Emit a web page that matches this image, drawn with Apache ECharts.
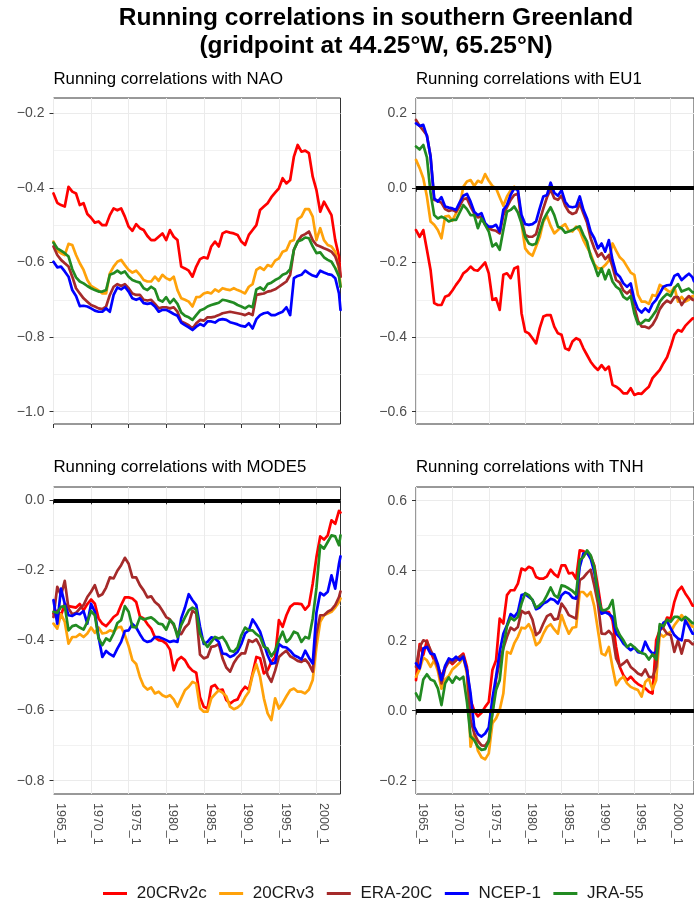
<!DOCTYPE html>
<html>
<head>
<meta charset="utf-8">
<script src="https://cdn.jsdelivr.net/npm/echarts@6/dist/echarts.min.js"></script>
<style>
  html, body { margin: 0; padding: 0; background: #ffffff; }
  #chart { width: 694px; height: 906px; }
</style>
</head>
<body>
<div id="chart"></div>
<script>
// Sample times: half-yearly steps from 1965_1, plus the final month shown.
const sampleYears = [];
for (let k = 0; k <= 76; k++) sampleYears.push(1965 + k / 2);
sampleYears.push(2003.2);

const modelNames = ['20CRv2c', '20CRv3', 'ERA-20C', 'NCEP-1', 'JRA-55'];
const yearTicks = [1965, 1970, 1975, 1980, 1985, 1990, 1995, 2000];

const naoTicks = [-1.0, -0.8, -0.6, -0.4, -0.2];
const eu1Ticks = [-0.6, -0.4, -0.2, 0.0, 0.2];
const mode5Ticks = [-0.8, -0.6, -0.4, -0.2, 0.0];
const tnhTicks = [-0.2, 0.0, 0.2, 0.4, 0.6];

// ---- NAO ----
const naoV2c = [-0.415,-0.44,-0.446,-0.45,-0.397,-0.41,-0.415,-0.446,-0.441,-0.47,
-0.48,-0.493,-0.49,-0.5,-0.5,-0.473,-0.455,-0.46,-0.455,-0.477,
-0.504,-0.515,-0.497,-0.508,-0.513,-0.529,-0.54,-0.54,-0.531,-0.522,
-0.54,-0.513,-0.531,-0.54,-0.611,-0.616,-0.622,-0.638,-0.611,-0.591,
-0.586,-0.589,-0.557,-0.544,-0.557,-0.522,-0.517,-0.52,-0.522,-0.526,
-0.544,-0.553,-0.526,-0.513,-0.5,-0.459,-0.45,-0.441,-0.425,-0.413,
-0.401,-0.374,-0.388,-0.379,-0.316,-0.285,-0.303,-0.3,-0.307,-0.37,
-0.406,-0.464,-0.437,-0.455,-0.473,-0.54,-0.584,-0.638];
const naoV3 = [-0.544,-0.568,-0.575,-0.58,-0.55,-0.553,-0.58,-0.602,-0.62,-0.647,
-0.663,-0.669,-0.675,-0.683,-0.683,-0.629,-0.611,-0.598,-0.593,-0.607,
-0.62,-0.627,-0.622,-0.633,-0.647,-0.651,-0.651,-0.638,-0.649,-0.633,
-0.642,-0.647,-0.638,-0.674,-0.696,-0.7,-0.705,-0.718,-0.693,-0.692,
-0.683,-0.68,-0.683,-0.672,-0.678,-0.669,-0.672,-0.674,-0.669,-0.674,
-0.678,-0.683,-0.665,-0.658,-0.62,-0.613,-0.62,-0.607,-0.611,-0.595,
-0.589,-0.571,-0.567,-0.544,-0.54,-0.484,-0.477,-0.457,-0.457,-0.477,
-0.54,-0.508,-0.54,-0.553,-0.557,-0.571,-0.62,-0.665];
const naoEra = [-0.557,-0.58,-0.593,-0.602,-0.611,-0.638,-0.669,-0.683,-0.696,-0.705,
-0.714,-0.718,-0.723,-0.725,-0.718,-0.687,-0.665,-0.658,-0.663,-0.658,
-0.669,-0.683,-0.687,-0.687,-0.7,-0.702,-0.7,-0.711,-0.723,-0.72,
-0.72,-0.723,-0.72,-0.732,-0.758,-0.763,-0.768,-0.777,-0.763,-0.754,
-0.756,-0.747,-0.747,-0.745,-0.741,-0.736,-0.734,-0.732,-0.734,-0.736,
-0.738,-0.741,-0.736,-0.741,-0.687,-0.685,-0.683,-0.678,-0.676,-0.672,
-0.665,-0.658,-0.651,-0.633,-0.566,-0.544,-0.529,-0.524,-0.517,-0.54,
-0.553,-0.557,-0.562,-0.566,-0.571,-0.584,-0.611,-0.638];
const naoNcep = [-0.598,-0.613,-0.611,-0.624,-0.638,-0.674,-0.69,-0.717,-0.716,-0.718,
-0.723,-0.729,-0.732,-0.732,-0.723,-0.732,-0.687,-0.667,-0.672,-0.665,
-0.678,-0.696,-0.7,-0.696,-0.709,-0.711,-0.709,-0.718,-0.732,-0.727,
-0.727,-0.732,-0.738,-0.743,-0.761,-0.768,-0.774,-0.781,-0.772,-0.765,
-0.77,-0.758,-0.758,-0.761,-0.754,-0.752,-0.754,-0.76,-0.763,-0.766,
-0.77,-0.772,-0.763,-0.777,-0.752,-0.741,-0.736,-0.734,-0.741,-0.741,
-0.736,-0.732,-0.72,-0.741,-0.642,-0.636,-0.633,-0.622,-0.629,-0.635,
-0.638,-0.622,-0.627,-0.631,-0.633,-0.642,-0.683,-0.727];
const naoJra = [-0.547,-0.562,-0.568,-0.575,-0.584,-0.618,-0.64,-0.651,-0.656,-0.663,
-0.669,-0.674,-0.678,-0.678,-0.674,-0.633,-0.629,-0.622,-0.629,-0.624,
-0.638,-0.647,-0.651,-0.654,-0.669,-0.674,-0.665,-0.672,-0.7,-0.705,
-0.693,-0.709,-0.698,-0.711,-0.734,-0.743,-0.747,-0.754,-0.741,-0.729,
-0.725,-0.718,-0.714,-0.711,-0.708,-0.7,-0.702,-0.705,-0.708,-0.714,
-0.718,-0.723,-0.716,-0.72,-0.672,-0.667,-0.674,-0.658,-0.654,-0.647,
-0.642,-0.633,-0.629,-0.618,-0.566,-0.544,-0.54,-0.533,-0.535,-0.557,
-0.575,-0.573,-0.586,-0.593,-0.598,-0.615,-0.638,-0.665];

// ---- EU1 ----
const eu1V2c = [-0.113,-0.131,-0.113,-0.166,-0.22,-0.309,-0.314,-0.314,-0.292,-0.288,
-0.275,-0.26,-0.247,-0.229,-0.222,-0.211,-0.22,-0.222,-0.211,-0.2,
-0.229,-0.3,-0.296,-0.327,-0.233,-0.229,-0.242,-0.216,-0.211,-0.336,
-0.385,-0.39,-0.403,-0.417,-0.376,-0.345,-0.341,-0.341,-0.372,-0.39,
-0.394,-0.43,-0.435,-0.412,-0.403,-0.408,-0.43,-0.448,-0.466,-0.479,
-0.488,-0.475,-0.488,-0.479,-0.528,-0.533,-0.54,-0.551,-0.551,-0.537,
-0.555,-0.551,-0.552,-0.542,-0.533,-0.51,-0.499,-0.488,-0.47,-0.454,
-0.426,-0.394,-0.381,-0.385,-0.37,-0.36,-0.35,-0.35];
const eu1V3 = [0.075,0.053,0.026,-0.023,-0.09,-0.099,-0.113,-0.135,-0.077,-0.075,
-0.088,-0.068,-0.048,0.003,0.017,0.021,0.005,0.019,0.014,0.037,
0.019,0.005,-0.001,-0.025,-0.048,-0.023,-0.007,0.003,-0.006,-0.095,
-0.162,-0.175,-0.182,-0.157,-0.132,-0.09,-0.075,-0.102,-0.122,-0.113,
-0.104,-0.097,-0.115,-0.117,-0.104,-0.115,-0.14,-0.159,-0.177,-0.204,
-0.216,-0.216,-0.207,-0.195,-0.149,-0.168,-0.186,-0.195,-0.211,-0.227,
-0.233,-0.287,-0.305,-0.305,-0.311,-0.287,-0.29,-0.26,-0.266,-0.274,
-0.281,-0.266,-0.305,-0.292,-0.305,-0.3,-0.29,-0.29];
const eu1Era = [0.182,0.166,0.154,0.141,0.084,-0.032,-0.034,-0.04,-0.057,-0.062,
-0.059,-0.064,-0.048,-0.03,-0.028,-0.05,-0.068,-0.079,-0.077,-0.099,
-0.108,-0.113,-0.115,-0.122,-0.073,-0.052,-0.032,-0.019,-0.016,-0.086,
-0.126,-0.131,-0.131,-0.124,-0.088,-0.055,-0.025,-0.004,-0.028,-0.032,
-0.021,-0.048,-0.064,-0.07,-0.066,-0.041,-0.068,-0.093,-0.135,-0.162,
-0.184,-0.175,-0.191,-0.18,-0.211,-0.247,-0.254,-0.275,-0.283,-0.274,
-0.318,-0.356,-0.372,-0.372,-0.376,-0.367,-0.35,-0.325,-0.311,-0.302,
-0.308,-0.293,-0.293,-0.314,-0.3,-0.29,-0.3,-0.3];
const eu1Ncep = [0.173,0.166,0.169,0.139,0.084,-0.028,-0.037,-0.025,-0.05,-0.053,
-0.055,-0.059,-0.039,-0.021,-0.016,-0.037,-0.064,-0.073,-0.068,-0.095,
-0.104,-0.104,-0.099,-0.117,-0.059,-0.046,-0.019,-0.001,-0.006,-0.073,
-0.097,-0.099,-0.097,-0.09,-0.055,-0.023,-0.019,0.014,-0.013,-0.021,
-0.006,-0.037,-0.05,-0.052,-0.05,-0.023,-0.059,-0.082,-0.117,-0.135,
-0.162,-0.149,-0.171,-0.14,-0.193,-0.229,-0.238,-0.256,-0.265,-0.256,
-0.3,-0.325,-0.334,-0.323,-0.332,-0.311,-0.3,-0.283,-0.265,-0.261,
-0.26,-0.236,-0.231,-0.247,-0.238,-0.23,-0.24,-0.25];
const eu1Jra = [0.111,0.103,0.115,0.082,-0.014,-0.073,-0.082,-0.077,-0.082,-0.09,
-0.086,-0.086,-0.066,-0.046,-0.057,-0.073,-0.073,-0.108,-0.082,-0.099,
-0.117,-0.157,-0.149,-0.166,-0.113,-0.064,-0.059,-0.05,-0.066,-0.095,
-0.131,-0.149,-0.153,-0.149,-0.117,-0.086,-0.068,-0.052,-0.073,-0.104,
-0.108,-0.12,-0.117,-0.113,-0.107,-0.103,-0.126,-0.144,-0.184,-0.207,
-0.236,-0.216,-0.245,-0.22,-0.251,-0.265,-0.272,-0.292,-0.299,-0.29,
-0.336,-0.365,-0.363,-0.354,-0.356,-0.343,-0.329,-0.305,-0.293,-0.284,
-0.29,-0.269,-0.258,-0.278,-0.274,-0.27,-0.28,-0.28];

// ---- MODE5 ----
const mode5V2c = [-0.323,-0.315,-0.328,-0.296,-0.302,-0.304,-0.306,-0.296,-0.314,-0.296,
-0.283,-0.295,-0.337,-0.352,-0.359,-0.347,-0.333,-0.325,-0.299,-0.277,
-0.277,-0.28,-0.29,-0.331,-0.337,-0.353,-0.366,-0.391,-0.399,-0.401,
-0.409,-0.426,-0.485,-0.456,-0.447,-0.456,-0.475,-0.486,-0.492,-0.562,
-0.589,-0.594,-0.532,-0.527,-0.542,-0.54,-0.57,-0.58,-0.572,-0.568,
-0.546,-0.532,-0.54,-0.494,-0.447,-0.451,-0.494,-0.485,-0.461,-0.447,
-0.342,-0.361,-0.328,-0.304,-0.295,-0.295,-0.296,-0.312,-0.3,-0.238,
-0.162,-0.103,-0.112,-0.1,-0.057,-0.067,-0.03,-0.035];
const mode5V3 = [-0.352,-0.366,-0.325,-0.347,-0.409,-0.39,-0.39,-0.382,-0.39,-0.38,
-0.363,-0.378,-0.363,-0.38,-0.378,-0.371,-0.375,-0.363,-0.361,-0.385,
-0.416,-0.456,-0.467,-0.504,-0.53,-0.54,-0.534,-0.551,-0.546,-0.556,
-0.561,-0.556,-0.568,-0.589,-0.565,-0.542,-0.532,-0.518,-0.523,-0.593,
-0.603,-0.603,-0.565,-0.553,-0.542,-0.549,-0.559,-0.589,-0.596,-0.591,
-0.582,-0.562,-0.546,-0.499,-0.468,-0.504,-0.565,-0.608,-0.627,-0.565,
-0.594,-0.578,-0.559,-0.542,-0.537,-0.546,-0.546,-0.551,-0.54,-0.513,
-0.418,-0.347,-0.328,-0.323,-0.318,-0.306,-0.29,-0.28];
const mode5Era = [-0.333,-0.247,-0.271,-0.23,-0.309,-0.325,-0.321,-0.309,-0.299,-0.276,
-0.261,-0.242,-0.274,-0.268,-0.249,-0.22,-0.223,-0.201,-0.185,-0.164,
-0.181,-0.22,-0.22,-0.242,-0.257,-0.277,-0.274,-0.29,-0.299,-0.315,
-0.333,-0.34,-0.356,-0.38,-0.382,-0.363,-0.352,-0.315,-0.323,-0.44,
-0.451,-0.447,-0.418,-0.416,-0.41,-0.451,-0.477,-0.489,-0.464,-0.448,
-0.437,-0.437,-0.399,-0.404,-0.397,-0.416,-0.451,-0.499,-0.518,-0.486,
-0.447,-0.437,-0.429,-0.445,-0.451,-0.458,-0.461,-0.454,-0.467,-0.489,
-0.38,-0.328,-0.328,-0.318,-0.312,-0.299,-0.276,-0.26];
const mode5Ncep = [-0.285,-0.352,-0.252,-0.295,-0.328,-0.33,-0.323,-0.325,-0.316,-0.352,
-0.295,-0.318,-0.39,-0.447,-0.43,-0.439,-0.445,-0.423,-0.404,-0.373,
-0.371,-0.353,-0.363,-0.382,-0.399,-0.404,-0.401,-0.39,-0.39,-0.394,
-0.399,-0.404,-0.401,-0.404,-0.337,-0.306,-0.268,-0.285,-0.299,-0.36,
-0.41,-0.404,-0.391,-0.394,-0.404,-0.437,-0.439,-0.447,-0.442,-0.432,
-0.41,-0.38,-0.371,-0.34,-0.356,-0.375,-0.409,-0.442,-0.466,-0.464,
-0.41,-0.418,-0.42,-0.429,-0.442,-0.447,-0.454,-0.429,-0.449,-0.466,
-0.32,-0.264,-0.271,-0.261,-0.214,-0.252,-0.181,-0.16];
const mode5Jra = [-0.318,-0.321,-0.304,-0.302,-0.371,-0.359,-0.356,-0.363,-0.369,-0.347,
-0.316,-0.328,-0.394,-0.413,-0.394,-0.401,-0.38,-0.35,-0.342,-0.302,
-0.318,-0.361,-0.363,-0.334,-0.34,-0.337,-0.334,-0.342,-0.352,-0.354,
-0.369,-0.342,-0.352,-0.39,-0.356,-0.334,-0.314,-0.306,-0.312,-0.38,
-0.404,-0.418,-0.404,-0.39,-0.394,-0.39,-0.406,-0.429,-0.432,-0.42,
-0.385,-0.363,-0.371,-0.371,-0.382,-0.39,-0.418,-0.423,-0.445,-0.429,
-0.399,-0.375,-0.404,-0.394,-0.375,-0.38,-0.404,-0.39,-0.394,-0.337,
-0.25,-0.128,-0.138,-0.119,-0.1,-0.103,-0.128,-0.1];

// ---- TNH ----
const tnhV2c = [0.087,0.19,0.159,0.2,0.168,0.144,0.125,0.097,0.125,0.144,
0.133,0.144,0.154,0.163,0.125,0.03,0.0,-0.016,-0.006,0.011,
0.025,0.116,0.144,0.263,0.249,0.33,0.344,0.344,0.363,0.406,
0.401,0.411,0.406,0.382,0.377,0.377,0.384,0.403,0.39,0.382,
0.415,0.415,0.392,0.394,0.377,0.458,0.456,0.45,0.441,0.415,
0.354,0.287,0.283,0.282,0.258,0.182,0.125,0.101,0.087,0.097,
0.085,0.076,0.07,0.064,0.054,0.049,0.201,0.23,0.239,0.266,
0.263,0.311,0.342,0.354,0.335,0.32,0.3,0.3];
const tnhV3 = [0.097,0.118,0.152,0.144,0.125,0.144,0.114,0.063,0.089,0.099,
0.118,0.127,0.137,0.152,0.106,-0.103,-0.065,-0.114,-0.133,-0.139,
-0.122,-0.036,-0.022,0.002,0.049,0.168,0.163,0.192,0.211,0.237,
0.235,0.247,0.225,0.187,0.196,0.22,0.239,0.247,0.232,0.22,
0.273,0.244,0.22,0.237,0.239,0.339,0.339,0.327,0.339,0.298,
0.23,0.163,0.158,0.182,0.125,0.073,0.089,0.097,0.078,0.068,
0.063,0.059,0.04,0.082,0.092,0.061,0.087,0.22,0.211,0.22,
0.225,0.244,0.258,0.273,0.258,0.25,0.24,0.24];
const tnhEra = [0.125,0.182,0.201,0.197,0.173,0.152,0.125,0.078,0.121,0.14,
0.137,0.144,0.154,0.158,0.116,-0.027,-0.065,-0.086,-0.099,-0.101,
-0.084,-0.003,0.089,0.14,0.178,0.211,0.237,0.23,0.239,0.285,
0.278,0.282,0.26,0.216,0.225,0.249,0.27,0.276,0.26,0.263,
0.306,0.292,0.273,0.268,0.263,0.373,0.38,0.393,0.403,0.358,
0.306,0.22,0.219,0.228,0.216,0.149,0.127,0.135,0.144,0.125,
0.116,0.106,0.101,0.118,0.097,0.095,0.125,0.241,0.235,0.22,
0.216,0.168,0.201,0.163,0.201,0.2,0.19,0.19];
const tnhNcep = [0.135,0.121,0.178,0.182,0.163,0.161,0.133,0.087,0.128,0.149,
0.144,0.154,0.144,0.154,0.116,0.049,-0.046,-0.067,-0.074,-0.065,
-0.048,0.035,0.097,0.168,0.22,0.244,0.276,0.268,0.282,0.33,
0.333,0.325,0.317,0.29,0.295,0.306,0.311,0.32,0.316,0.306,
0.33,0.339,0.335,0.323,0.32,0.411,0.449,0.452,0.434,0.396,
0.335,0.277,0.281,0.276,0.268,0.22,0.209,0.192,0.182,0.173,
0.181,0.167,0.165,0.197,0.175,0.163,0.168,0.23,0.251,0.256,
0.235,0.216,0.206,0.201,0.258,0.24,0.22,0.22];
const tnhJra = [0.049,0.03,0.089,0.104,0.089,0.085,0.064,0.016,0.078,0.095,
0.08,0.097,0.089,0.097,0.025,-0.074,-0.084,-0.103,-0.112,-0.11,
-0.088,-0.008,0.059,0.087,0.182,0.241,0.266,0.258,0.268,0.306,
0.336,0.33,0.316,0.294,0.302,0.311,0.33,0.352,0.33,0.323,
0.358,0.355,0.349,0.342,0.332,0.43,0.439,0.458,0.444,0.411,
0.325,0.287,0.287,0.294,0.316,0.239,0.216,0.201,0.182,0.19,
0.181,0.171,0.165,0.161,0.146,0.161,0.146,0.247,0.241,0.26,
0.254,0.268,0.268,0.258,0.268,0.26,0.25,0.25];

// ---- presentation ----
const FONT = '"Liberation Sans", Arial, Helvetica, sans-serif';
const modelColors = ['#FF0000', '#FFA20A', '#A52A2A', '#0000FF', '#228B22'];

const panels = [
  { title: 'Running correlations with NAO', values: [naoV2c, naoV3, naoEra, naoNcep, naoJra],
    ticks: naoTicks, min: -1.033, max: -0.159, zero: false, xLabels: false,
    box: { left: 53.5, top: 98, width: 287, height: 326 }, titleTop: 69 },
  { title: 'Running correlations with EU1', values: [eu1V2c, eu1V3, eu1Era, eu1Ncep, eu1Jra],
    ticks: eu1Ticks, min: -0.633, max: 0.241, zero: true, xLabels: false,
    box: { left: 416, top: 98, width: 287, height: 326 }, titleTop: 69 },
  { title: 'Running correlations with MODE5', values: [mode5V2c, mode5V3, mode5Era, mode5Ncep, mode5Jra],
    ticks: mode5Ticks, min: -0.838, max: 0.038, zero: true, xLabels: true,
    box: { left: 53.5, top: 487, width: 287, height: 307 }, titleTop: 457 },
  { title: 'Running correlations with TNH', values: [tnhV2c, tnhV3, tnhEra, tnhNcep, tnhJra],
    ticks: tnhTicks, min: -0.238, max: 0.639, zero: true, xLabels: true,
    box: { left: 416, top: 487, width: 287, height: 307 }, titleTop: 457 }
];

const fmtCorr = v => (v < -1e-9 ? '\u2212' : '') + Math.abs(v).toFixed(1);

const grids = [], xAxes = [], yAxes = [], series = [];
const titles = [{
  text: 'Running correlations in southern Greenland\n(gridpoint at 44.25\u00b0W, 65.25\u00b0N)',
  left: 376, top: 4, padding: 0, textAlign: 'center',
  textStyle: { fontFamily: FONT, fontSize: 24.5, fontWeight: 'bold', lineHeight: 28, color: '#000000' }
}];

panels.forEach((p, k) => {
  grids.push(Object.assign({ show: true, borderColor: '#333333', borderWidth: 1,
    backgroundColor: '#ffffff', containLabel: false }, p.box));
  titles.push({
    text: p.title, left: p.box.left, top: p.titleTop + 0.5, padding: 0,
    textStyle: { fontFamily: FONT, fontSize: 16.8, fontWeight: 'normal', lineHeight: 20, color: '#000000' }
  });
  xAxes.push({
    gridIndex: k, type: 'value', min: 1965, max: 2003.2, interval: 5,
    axisLine: { show: false },
    axisTick: { show: true, length: 4, customValues: yearTicks, lineStyle: { color: '#333333', width: 1 } },
    axisLabel: { show: p.xLabels, customValues: yearTicks, formatter: v => v + '_1',
      rotate: -90, verticalAlign: 'bottom', margin: 9,
      fontFamily: FONT, fontSize: 12.5, color: '#4D4D4D' },
    splitLine: { show: true, lineStyle: { color: '#EBEBEB', width: 1 } }
  });
  yAxes.push({
    gridIndex: k, type: 'value', min: p.min, max: p.max, minInterval: 0.2, maxInterval: 0.2,
    axisLine: { show: false },
    axisTick: { show: true, length: 4, customValues: p.ticks, lineStyle: { color: '#333333', width: 1 } },
    axisLabel: { customValues: p.ticks, formatter: fmtCorr, margin: 9,
      fontFamily: FONT, fontSize: 14, color: '#4D4D4D' },
    splitLine: { show: true, lineStyle: { color: '#EBEBEB', width: 1 } },
    minorTick: { show: false, splitNumber: 2 },
    minorSplitLine: { show: true, lineStyle: { color: '#F2F2F2', width: 1 } }
  });
  p.values.forEach((vals, m) => {
    series.push({
      name: modelNames[m], type: 'line', xAxisIndex: k, yAxisIndex: k,
      data: sampleYears.map((t, j) => [t, vals[j]]),
      symbol: 'none', showSymbol: false, animation: false, z: 2,
      lineStyle: { color: modelColors[m], width: 2.7, join: 'round', cap: 'round' },
      itemStyle: { color: modelColors[m] }
    });
  });
  if (p.zero) {
    series.push({
      type: 'line', xAxisIndex: k, yAxisIndex: k, data: [], z: 3, animation: false,
      markLine: { silent: true, symbol: ['none', 'none'], animation: false,
        label: { show: false },
        lineStyle: { color: '#000000', width: 4, type: 'solid' },
        data: [{ yAxis: 0 }] }
    });
  }
});

const chart = echarts.init(document.getElementById('chart'), null, { renderer: 'canvas' });
chart.setOption({
  backgroundColor: '#ffffff',
  animation: false,
  title: titles,
  grid: grids,
  xAxis: xAxes,
  yAxis: yAxes,
  series: series,
  legend: {
    data: modelNames, left: 103, top: 885, padding: 0, icon: 'rect',
    itemWidth: 24, itemHeight: 3, itemGap: 12.5,
    formatter: n => ' ' + n,
    textStyle: { fontFamily: FONT, fontSize: 17, color: '#1A1A1A' }
  }
});
</script>
</body>
</html>
